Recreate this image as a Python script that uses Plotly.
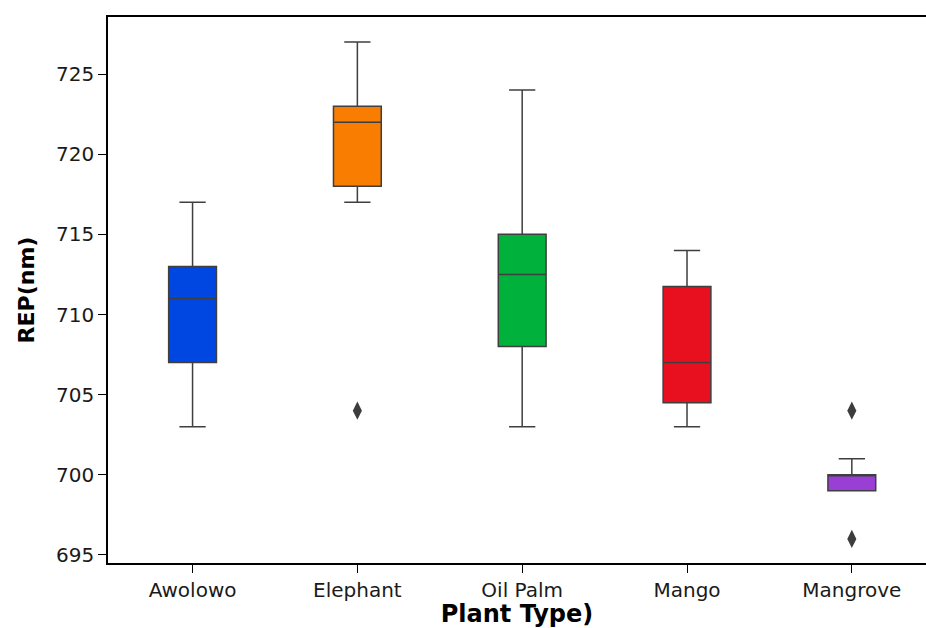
import plotly.graph_objects as go

categories = ["Awolowo", "Elephant", "Oil Palm", "Mango", "Mangrove"]
q1 = [707, 718, 708, 704.5, 699]
median = [711, 722, 712.5, 707, 700]
q3 = [713, 723, 715, 711.75, 700]
lower_whisker = [703, 717, 703, 703, 699]
upper_whisker = [717, 727, 724, 714, 701]
colors = ["#0046E0", "#F97D00", "#00B13C", "#E8101E", "#9A3FD6"]

outlier_cat = ["Elephant", "Mangrove", "Mangrove"]
outlier_val = [704, 704, 696]

y_ticks = [695, 700, 705, 710, 715, 720, 725]

fig = go.Figure()
for i, c in enumerate(categories):
    fig.add_trace(go.Box(
        x=[c], q1=[q1[i]], median=[median[i]], q3=[q3[i]],
        lowerfence=[lower_whisker[i]], upperfence=[upper_whisker[i]],
        fillcolor=colors[i], line=dict(color="#3F3F3F", width=1.5),
        width=0.29, whiskerwidth=0.55, boxpoints=False, showlegend=False,
    ))

fig.add_trace(go.Scatter(
    x=outlier_cat, y=outlier_val, mode="markers",
    marker=dict(symbol="diamond-tall", size=13, color="#3D3D3D"),
    showlegend=False,
))

fig.update_layout(
    width=926, height=628,
    margin=dict(l=108, r=0, t=17, b=65),
    paper_bgcolor="white", plot_bgcolor="white",
    boxmode="overlay",
    font=dict(family="DejaVu Sans", color="#1a1a1a"),
)
fig.update_xaxes(
    type="category", categoryorder="array", categoryarray=categories,
    range=[-0.513, 4.45],
    showline=True, linecolor="black", linewidth=1.6, mirror=True,
    ticks="outside", ticklen=8, tickwidth=1.2, tickcolor="black",
    tickfont=dict(size=20, family="DejaVu Sans", color="#1a1a1a"),
    showgrid=False, zeroline=False,
    title=dict(text="<b>Plant Type)</b>", font=dict(size=24, family="DejaVu Sans", color="black"), standoff=2),
)
fig.update_yaxes(
    range=[694.5, 728.56], tickvals=y_ticks,
    showline=True, linecolor="black", linewidth=1.6, mirror=False,
    ticks="outside", ticklen=8, tickwidth=1.2, tickcolor="black",
    tickfont=dict(size=20, family="DejaVu Sans", color="#1a1a1a"),
    showgrid=False, zeroline=False,
    title=dict(text="<b>REP(nm)</b>", font=dict(size=22, family="DejaVu Sans", color="black"), standoff=15),
)

fig.write_html(
    "out.html",
    config={"displayModeBar": False},
    post_script="document.body.style.margin='0';document.body.style.overflow='hidden';",
)
